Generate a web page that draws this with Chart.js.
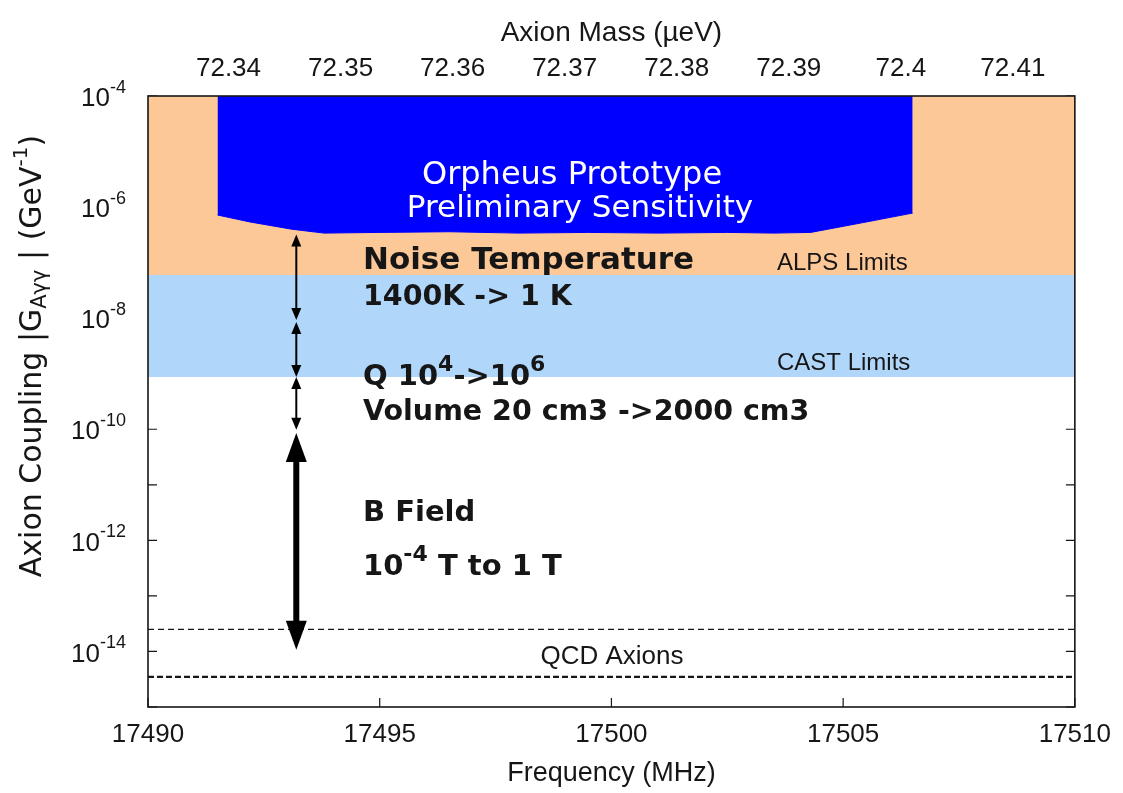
<!DOCTYPE html>
<html>
<head>
<meta charset="utf-8">
<script src="https://cdn.jsdelivr.net/npm/chart.js@4/dist/chart.umd.min.js"></script>
<style>
  html, body { margin: 0; padding: 0; background: #ffffff; }
  #wrap { width: 1123px; height: 793px; position: relative; }
</style>
</head>
<body>
<div id="wrap"><canvas id="c" width="1123" height="793"></canvas></div>
<script>
// ---- axis ranges and ticks ----
const FREQ_MIN = 17490;                 // MHz
const FREQ_MAX = 17510;                 // MHz
const FREQ_TICKS = [17490, 17495, 17500, 17505, 17510];
const MASS_TICK_LABELS = ['72.34', '72.35', '72.36', '72.37', '72.38', '72.39', '72.4', '72.41'];
const H_UEV_PER_MHZ = 4.135667e-3;      // Planck constant in µeV per MHz
const G_MIN = 1e-15;                    // GeV^-1
const G_MAX = 1e-4;
const G_TICK_EXPONENTS = [-15, -14, -13, -12, -11, -10, -9, -8, -7, -6, -5, -4];
const G_LABEL_EXPONENTS = [-4, -6, -8, -10, -12, -14];

// ---- excluded regions and QCD band ----
const ALPS_LIMIT = 6e-8;
const CAST_LIMIT = 8.7e-10;
const QCD_UPPER = 2.5e-14;
const QCD_LOWER = 3.5e-15;

// ---- prototype sensitivity curve ----
const SENS_FREQ = [17491.5, 17492.2, 17493.1, 17493.8, 17495.0, 17496.5, 17498.0, 17499.5, 17501.0, 17502.5, 17503.5, 17504.3, 17505.4, 17506.5];
const SENS_G    = [7.2e-7, 5.4e-7, 4.0e-7, 3.4e-7, 3.5e-7, 3.6e-7, 3.4e-7, 3.5e-7, 3.4e-7, 3.5e-7, 3.4e-7, 3.5e-7, 5.2e-7, 7.8e-7];

// ---- improvement steps (double arrows) ----
const ARROW_FREQ = 17493.2;
const ARROW_TOP    = [3.2e-7, 8.5e-9, 8.7e-10, 8.6e-11];
const ARROW_BOTTOM = [9.3e-9, 8.7e-10, 9.8e-11, 1.07e-14];
const ARROW_HEAVY  = [false, false, false, true];

const SANS = "'Liberation Sans', Arial, Helvetica, sans-serif";
const DEJA = "'DejaVu Sans', sans-serif";
const INK = '#161616';

const flat = v => [{ x: FREQ_MIN, y: v }, { x: FREQ_MAX, y: v }];

// draws a run of text pieces (normal / super / subscript) left-to-right
function drawRich(ctx, pieces, x, y, align) {
  let total = 0;
  pieces.forEach(p => {
    ctx.font = (p.weight || 'normal') + ' ' + p.size + 'px ' + p.family;
    p.w = ctx.measureText(p.t).width;
    total += p.w;
  });
  let cx = align === 'center' ? x - total / 2 : align === 'right' ? x - total : x;
  ctx.textAlign = 'left';
  ctx.textBaseline = 'middle';
  pieces.forEach(p => {
    ctx.font = (p.weight || 'normal') + ' ' + p.size + 'px ' + p.family;
    ctx.fillStyle = p.color || INK;
    ctx.fillText(p.t, cx, y + (p.dy || 0));
    cx += p.w;
  });
}

function drawArrow(ctx, x, y1, y2, heavy) {
  const hl = heavy ? 29 : 12;
  const hw = heavy ? 10.5 : 5;
  ctx.save();
  ctx.strokeStyle = '#000';
  ctx.fillStyle = '#000';
  ctx.lineWidth = heavy ? 6 : 2;
  ctx.beginPath();
  ctx.moveTo(x, y1 + hl * 0.8);
  ctx.lineTo(x, y2 - hl * 0.8);
  ctx.stroke();
  ctx.beginPath();
  ctx.moveTo(x, y1);
  ctx.lineTo(x - hw, y1 + hl);
  ctx.lineTo(x + hw, y1 + hl);
  ctx.closePath();
  ctx.fill();
  ctx.beginPath();
  ctx.moveTo(x, y2);
  ctx.lineTo(x - hw, y2 - hl);
  ctx.lineTo(x + hw, y2 - hl);
  ctx.closePath();
  ctx.fill();
  ctx.restore();
}

const decorations = {
  id: 'decorations',
  beforeDatasetsDraw(chart) {
    // inward tick marks on all four sides (the filled bands cover them)
    const { ctx, chartArea: a, scales } = chart;
    ctx.save();
    ctx.strokeStyle = INK;
    ctx.lineWidth = 1.2;
    ctx.beginPath();
    G_TICK_EXPONENTS.forEach(e => {
      const py = scales.y.getPixelForValue(Math.pow(10, e));
      ctx.moveTo(a.left, py); ctx.lineTo(a.left + 9, py);
      ctx.moveTo(a.right, py); ctx.lineTo(a.right - 9, py);
    });
    FREQ_TICKS.forEach(f => {
      const px = scales.x.getPixelForValue(f);
      ctx.moveTo(px, a.bottom); ctx.lineTo(px, a.bottom - 9);
    });
    MASS_TICK_LABELS.forEach(m => {
      const px = scales.xMass.getPixelForValue(parseFloat(m));
      ctx.moveTo(px, a.top); ctx.lineTo(px, a.top + 9);
    });
    ctx.stroke();
    ctx.restore();
  },
  afterDatasetsDraw(chart) {
    const { ctx, chartArea: a, scales } = chart;
    const ys = scales.y, xs = scales.x;

    // arrows
    const ax = xs.getPixelForValue(ARROW_FREQ);
    ARROW_TOP.forEach((t, i) => {
      drawArrow(ctx, ax, ys.getPixelForValue(t), ys.getPixelForValue(ARROW_BOTTOM[i]), ARROW_HEAVY[i]);
    });

    // plot frame
    ctx.save();
    ctx.strokeStyle = INK;
    ctx.lineWidth = 1.6;
    ctx.strokeRect(a.left, a.top, a.right - a.left, a.bottom - a.top);
    ctx.restore();

    // y tick labels 10^n
    G_LABEL_EXPONENTS.forEach(e => {
      const py = ys.getPixelForValue(Math.pow(10, e));
      drawRich(ctx, [
        { t: '10', size: 26, family: SANS, dy: 3 },
        { t: String(e), size: 18, family: SANS, dy: -8 }
      ], 126, py, 'right');
    });

    // y axis title
    ctx.save();
    ctx.translate(33, 356);
    ctx.rotate(-Math.PI / 2);
    drawRich(ctx, [
      { t: 'Axion Coupling |G', size: 30, family: DEJA },
      { t: 'Aγγ', size: 21, family: DEJA, dy: 8 },
      { t: ' | (GeV', size: 30, family: DEJA },
      { t: '-1', size: 20, family: DEJA, dy: -11 },
      { t: ')', size: 30, family: DEJA }
    ], 0, 0, 'center');
    ctx.restore();

    // sensitivity caption
    drawRich(ctx, [{ t: 'Orpheus Prototype', size: 32, family: DEJA, color: '#ffffff' }], 572, 176, 'center');
    drawRich(ctx, [{ t: 'Preliminary Sensitivity', size: 31, family: DEJA, color: '#ffffff' }], 580, 209, 'center');

    // band captions
    drawRich(ctx, [{ t: 'ALPS Limits', size: 24, family: SANS }], 777, 263, 'left');
    drawRich(ctx, [{ t: 'CAST Limits', size: 24, family: SANS }], 777, 363, 'left');
    drawRich(ctx, [{ t: 'QCD Axions', size: 26, family: SANS }], 612, 657, 'center');

    // improvement notes
    const B = { size: 29, family: DEJA, weight: 'bold' };
    const S = { size: 22, family: DEJA, weight: 'bold', dy: -12 };
    const L = 363;
    drawRich(ctx, [{ ...B, size: 31, t: 'Noise Temperature' }], L, 261, 'left');
    drawRich(ctx, [{ ...B, size: 28.5, t: '1400K -> 1 K' }], L, 298, 'left');
    drawRich(ctx, [{ ...B, t: 'Q 10' }, { ...S, t: '4' }, { ...B, t: '->10' }, { ...S, t: '6' }], L, 377, 'left');
    drawRich(ctx, [{ ...B, size: 28.5, t: 'Volume 20 cm3 ->2000 cm3' }], L, 413, 'left');
    drawRich(ctx, [{ ...B, t: 'B Field' }], L, 513, 'left');
    drawRich(ctx, [{ ...B, t: '10' }, { ...S, t: '-4' }, { ...B, t: ' T to 1 T' }], L, 567, 'left');
  }
};

const chart = new Chart(document.getElementById('c'), {
  type: 'line',
  data: {
    datasets: [
      { label: 'ALPS Limits', data: flat(ALPS_LIMIT), fill: 'end', backgroundColor: '#fdc897',
        borderWidth: 0, pointRadius: 0, order: 5 },
      { label: 'CAST Limits', data: flat(CAST_LIMIT), fill: '-1', backgroundColor: '#b0d7f9',
        borderWidth: 0, pointRadius: 0, order: 6 },
      { label: 'Prototype sensitivity', data: SENS_FREQ.map((f, i) => ({ x: f, y: SENS_G[i] })),
        fill: 'end', backgroundColor: '#0000ff', borderColor: '#0000ff', borderWidth: 1,
        pointRadius: 0, tension: 0, order: 4 },
      { label: 'QCD upper', data: flat(QCD_UPPER), fill: false, borderColor: INK, borderWidth: 1.3,
        borderDash: [6, 4], pointRadius: 0, order: 3 },
      { label: 'QCD lower', data: flat(QCD_LOWER), fill: false, borderColor: INK, borderWidth: 2.3,
        borderDash: [6, 3], pointRadius: 0, order: 3 }
    ]
  },
  options: {
    responsive: false,
    animation: false,
    events: [],
    layout: { padding: { left: 0, right: 46, top: 0, bottom: 0 } },
    plugins: { legend: { display: false }, tooltip: { enabled: false } },
    scales: {
      x: {
        type: 'linear', position: 'bottom', min: FREQ_MIN, max: FREQ_MAX,
        afterBuildTicks: s => { s.ticks = FREQ_TICKS.map(v => ({ value: v })); },
        afterFit: s => { s.height = 86; },
        grid: { display: false, drawTicks: false },
        border: { display: false },
        ticks: { font: { family: SANS, size: 26 }, color: INK, padding: 12, maxRotation: 0, autoSkip: false,
                 callback: v => String(v) },
        title: { display: true, text: 'Frequency (MHz)', font: { family: SANS, size: 27 }, color: INK,
                 padding: { top: 0, bottom: 3 } }
      },
      xMass: {
        type: 'linear', position: 'top',
        min: FREQ_MIN * H_UEV_PER_MHZ, max: FREQ_MAX * H_UEV_PER_MHZ,
        afterBuildTicks: s => { s.ticks = MASS_TICK_LABELS.map(m => ({ value: parseFloat(m) })); },
        afterFit: s => { s.height = 96; },
        grid: { display: false, drawTicks: false },
        border: { display: false },
        ticks: { font: { family: SANS, size: 26 }, color: INK, padding: 12, maxRotation: 0, autoSkip: false,
                 callback: (v, i) => MASS_TICK_LABELS[i] },
        title: { display: true, text: 'Axion Mass (µeV)', font: { family: SANS, size: 28 }, color: INK,
                 padding: { top: 16, bottom: 0 } }
      },
      y: {
        type: 'logarithmic', position: 'left', min: G_MIN, max: G_MAX,
        afterBuildTicks: s => { s.ticks = G_TICK_EXPONENTS.map(e => ({ value: Math.pow(10, e) })); },
        afterFit: s => { s.width = 148; },
        grid: { display: false, drawTicks: false },
        border: { display: false },
        ticks: { display: false }
      }
    }
  },
  plugins: [decorations]
});
</script>
</body>
</html>
